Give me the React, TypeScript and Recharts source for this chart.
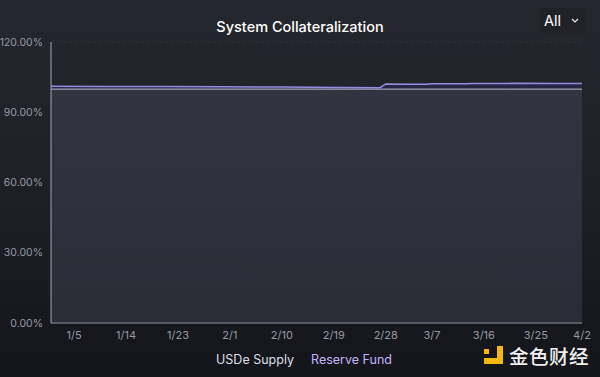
import React from "react";
import { AreaChart, Area, XAxis, YAxis, CartesianGrid } from "recharts";

// Dates (2024), USDe Supply share (%) and Reserve Fund share (%) stacked on top
const dates = ["1/1", "1/10", "1/20", "1/31", "2/10", "2/20", "2/27", "2/28", "3/3", "3/6", "3/7", "3/13", "3/14", "3/20", "3/21", "3/28", "4/2"];
const usdeSupply = [100, 100, 100, 100, 100, 100, 100, 100, 100, 100, 100, 100, 100, 100, 100, 100, 100];
const reserveFund = [1.1, 1.05, 0.95, 0.85, 0.75, 0.6, 0.5, 2.1, 2.0, 1.95, 2.2, 2.2, 2.3, 2.25, 2.35, 2.3, 2.3];

const tickLabels = ["1/5", "1/14", "1/23", "2/1", "2/10", "2/19", "2/28", "3/7", "3/16", "3/25", "4/2"];
const yTicks = [0, 30, 60, 90, 120];

const monthStart = [0, 31, 60, 91];
const dayIndex = (label: string) => {
  const [m, d] = label.split("/").map(Number);
  return monthStart[m - 1] + d - 1;
};

const data = dates.map((d, i) => ({
  day: dayIndex(d),
  label: d,
  supply: usdeSupply[i],
  reserve: reserveFund[i],
}));

const tickDays = tickLabels.map(dayIndex);
const labelByDay: Record<number, string> = {};
tickLabels.forEach((l) => (labelByDay[dayIndex(l)] = l));

const FONT = "Inter, 'Noto Sans', sans-serif";

export default function App() {
  return (
    <div
      style={{
        position: "absolute",
        left: 0,
        top: 0,
        width: 600,
        height: 377,
        background: "linear-gradient(180deg, #25272e 0%, #1d1f25 55%, #14151a 100%)",
        fontFamily: FONT,
        overflow: "hidden",
      }}
    >
      <div
        style={{
          position: "absolute",
          top: 17,
          left: 0,
          width: 600,
          textAlign: "center",
          color: "#ffffff",
          fontSize: 14.5,
          fontWeight: 500,
          lineHeight: "20px",
        }}
      >
        System Collateralization
      </div>
      <div
        style={{
          position: "absolute",
          left: 540,
          top: 8,
          width: 45,
          height: 25,
          borderRadius: 4,
          background: "#202228",
          color: "#ffffff",
          fontSize: 14.5,
          lineHeight: "25px",
          boxSizing: "border-box",
          paddingLeft: 4,
        }}
      >
        All
        <svg width="8" height="6" style={{ position: "absolute", left: 31, top: 10 }}>
          <path d="M1 1 L4 4 L7 1" stroke="#e8e8ee" strokeWidth="1.2" fill="none" />
        </svg>
      </div>

      <AreaChart
        width={600}
        height={377}
        data={data}
        margin={{ top: 42, right: 18, left: 0, bottom: 30 }}
      >
        <defs>
          <linearGradient id="supplyFill" x1="0" y1="0" x2="0" y2="1">
            <stop offset="0%" stopColor="#32353f" />
            <stop offset="100%" stopColor="#2a2d36" />
          </linearGradient>
        </defs>
        <CartesianGrid
          vertical={false}
          stroke="rgba(255,255,255,0.05)"
          strokeDasharray="3 3"
        />
        <XAxis
          type="number"
          dataKey="day"
          domain={[0, 92]}
          ticks={tickDays}
          tickFormatter={(v: number) => labelByDay[v] ?? ""}
          height={24}
          axisLine={{ stroke: "#6a6d7b", strokeWidth: 1.5 }}
          tickLine={false}
          tick={{ fill: "#9597a3", fontSize: 11, fontFamily: FONT }}
          interval={0}
        />
        <YAxis
          domain={[0, 120]}
          ticks={yTicks}
          width={51}
          tickFormatter={(v: number) => `${v.toFixed(2)}%`}
          axisLine={{ stroke: "#a3a5b5", strokeWidth: 1 }}
          tickLine={false}
          tick={{ fill: "#9597a3", fontSize: 10.5, fontFamily: FONT }}
        />
        <Area
          type="linear"
          dataKey="supply"
          stackId="1"
          stroke="#d9d9ec"
          strokeWidth={1.5}
          fill="url(#supplyFill)"
          fillOpacity={1}
          isAnimationActive={false}
          dot={false}
          activeDot={false}
        />
        <Area
          type="linear"
          dataKey="reserve"
          stackId="1"
          stroke="#988ce0"
          strokeWidth={1.5}
          fill="#2a2648"
          fillOpacity={0.9}
          isAnimationActive={false}
          dot={false}
          activeDot={false}
        />
      </AreaChart>

      <div
        style={{
          position: "absolute",
          top: 352,
          left: 0,
          width: 600,
          display: "flex",
          justifyContent: "center",
          gap: 17,
          fontSize: 12.5,
          lineHeight: "16px",
          paddingLeft: 8,
          boxSizing: "border-box",
        }}
      >
        <span style={{ color: "#dcdde8" }}>USDe Supply</span>
        <span style={{ color: "#c3b5f5" }}>Reserve Fund</span>
      </div>

      <div style={{ position: "absolute", left: 483, top: 346, width: 20, height: 19 }}>
        <div style={{ position: "absolute", left: 1, top: 3, width: 5, height: 5, background: "#f2b90c" }} />
        <div style={{ position: "absolute", left: 14, top: 0, width: 6, height: 18, background: "#f2b90c" }} />
        <div style={{ position: "absolute", left: 1, top: 12, width: 19, height: 6, background: "#f2b90c" }} />
      </div>
      <div
        style={{
          position: "absolute",
          left: 509,
          top: 346,
          color: "#f0f0f0",
          fontSize: 19.5,
          lineHeight: "20px",
          fontFamily: "'Noto Sans CJK SC', sans-serif",
          fontWeight: 500,
          letterSpacing: 0.5,
        }}
      >
        金色财经
      </div>
    </div>
  );
}
